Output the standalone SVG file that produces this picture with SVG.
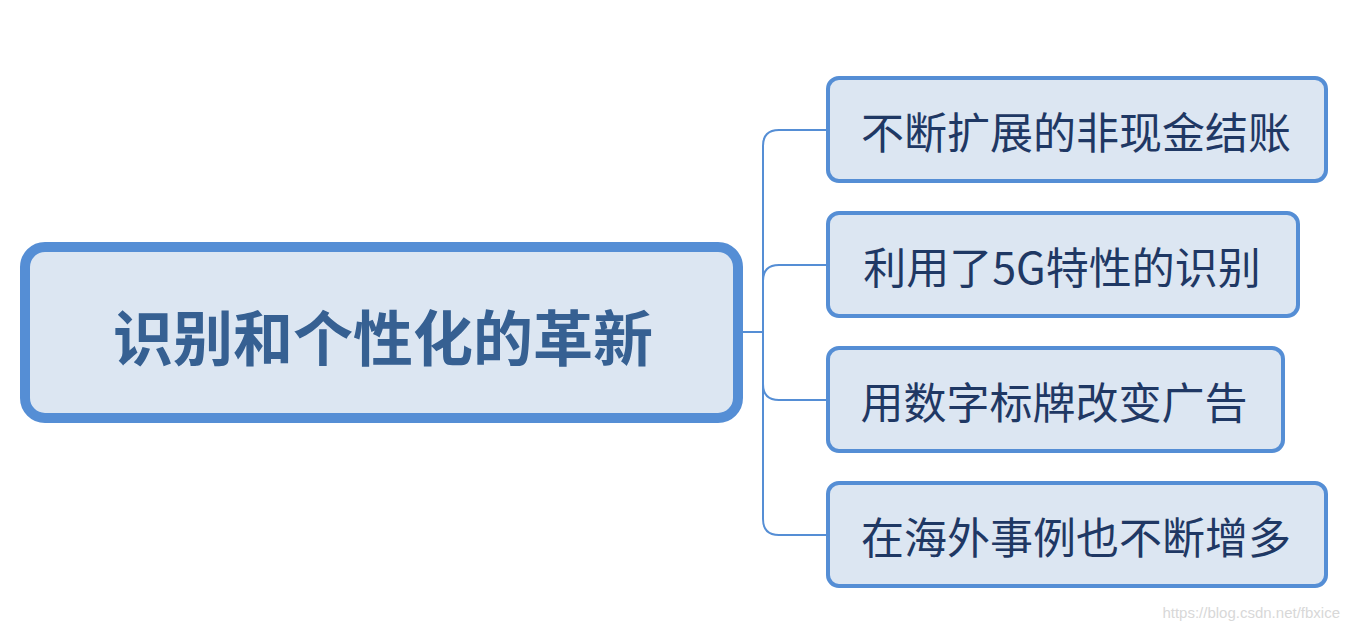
<svg xmlns="http://www.w3.org/2000/svg" width="1352" height="632" viewBox="0 0 1352 632">
<style>
.node{fill:#DCE6F2;stroke:#558ED5}
.main{stroke-width:10}
.sub{stroke-width:4}
.mt{font-family:"Noto Sans CJK SC","Noto Sans",sans-serif;font-weight:bold;font-size:60px;fill:#366092}
.st{font-family:"Noto Sans CJK SC","Noto Sans",sans-serif;font-size:43px;fill:#1F3864}
.conn{fill:none;stroke:#558ED5;stroke-width:2}
.wm{font-family:"Liberation Sans",Arial,sans-serif;font-size:15px;fill:#D8D8D8}
</style>
<rect width="1352" height="632" fill="#FFFFFF"/>
<g id="connectors">
<path class="conn" d="M743 332 H763"/>
<path class="conn" d="M827 130 H779 Q763 130 763 146 V519 Q763 535 779 535 H827"/>
<path class="conn" d="M827 265 H779 Q763 265 763 281"/>
<path class="conn" d="M827 400 H779 Q763 400 763 384"/>
</g>
<g id="main">
<rect class="node main" x="25" y="247" width="713" height="171" rx="20"/>
<text class="mt" x="383" y="334" text-anchor="middle" dominant-baseline="central">识别和个性化的革新</text>
</g>
<g id="n1">
<rect class="node sub" x="828" y="78" width="498" height="103" rx="11"/>
<text class="st" x="1076" y="130" text-anchor="middle" dominant-baseline="central">不断扩展的非现金结账</text>
</g>
<g id="n2">
<rect class="node sub" x="828" y="213" width="470" height="103" rx="11"/>
<text class="st" x="1062" y="265" text-anchor="middle" dominant-baseline="central">利用了5G特性的识别</text>
</g>
<g id="n3">
<rect class="node sub" x="828" y="348" width="455" height="103" rx="11"/>
<text class="st" x="1054" y="400" text-anchor="middle" dominant-baseline="central">用数字标牌改变广告</text>
</g>
<g id="n4">
<rect class="node sub" x="828" y="483" width="498" height="103" rx="11"/>
<text class="st" x="1076" y="535" text-anchor="middle" dominant-baseline="central">在海外事例也不断增多</text>
</g>
<text class="wm" x="1340" y="618" text-anchor="end">https://blog.csdn.net/fbxice</text>
</svg>
